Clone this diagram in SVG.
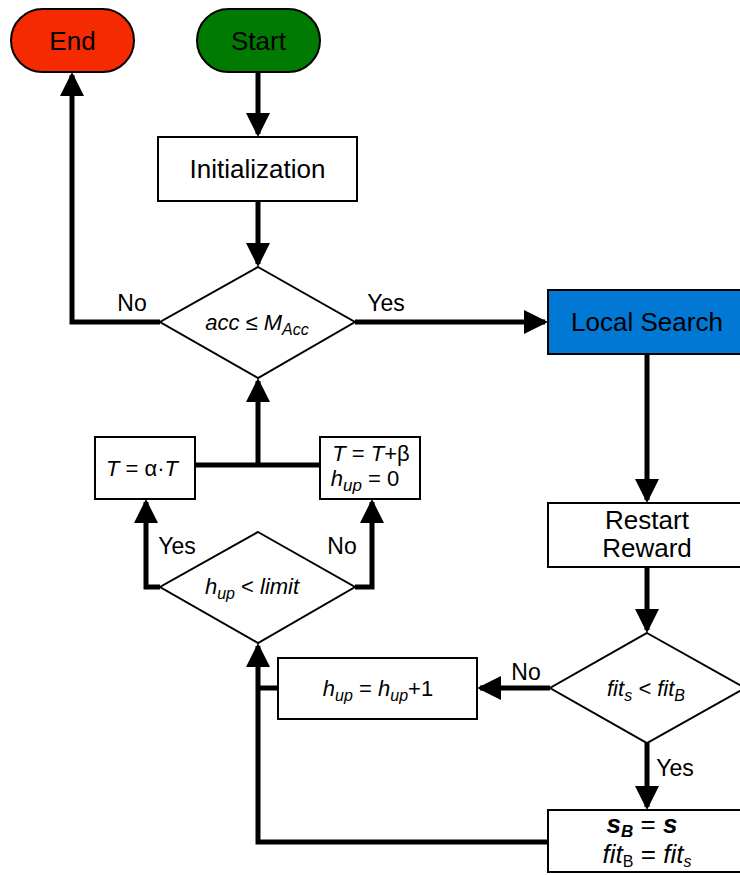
<svg xmlns="http://www.w3.org/2000/svg" width="740" height="875" viewBox="0 0 740 875">
<defs>
<marker id="ah" viewBox="0 0 24 24" markerWidth="24" markerHeight="24" refX="21" refY="12" orient="auto" markerUnits="userSpaceOnUse">
<path d="M0,0 L24,12 L0,24 z" fill="#000"/>
</marker>
</defs>
<style>
.box{fill:#fff;stroke:#000;stroke-width:2}
.t{font-family:"Liberation Sans",Arial,sans-serif;font-size:26px;fill:#000;text-anchor:middle}
.d{font-family:"Liberation Sans",Arial,sans-serif;font-size:22px;fill:#000;text-anchor:middle}
.i{font-style:italic}
.lbl{font-family:"Liberation Sans",Arial,sans-serif;font-size:23px;fill:#000;text-anchor:middle}
.c{fill:none;stroke:#000;stroke-width:5}
.ca{fill:none;stroke:#000;stroke-width:5;marker-end:url(#ah)}
</style>
<rect width="740" height="875" fill="#fff"/>
<g id="connectors">
<path class="ca" d="M258,72 V134"/>
<path class="ca" d="M258,201 V264"/>
<path class="ca" d="M160,322 H72 V75"/>
<path class="ca" d="M355,322 H545"/>
<path class="ca" d="M647,354 V500"/>
<path class="ca" d="M647,567 V630"/>
<path class="ca" d="M550,688 H480"/>
<path class="ca" d="M647,743 V807"/>
<path class="ca" d="M548,842 H258 V646"/>
<path class="c" d="M278,688 H258"/>
<path class="ca" d="M160,587 H146 V502"/>
<path class="ca" d="M355,587 H372 V502"/>
<path class="c" d="M195,465 H320"/>
<path class="ca" d="M258,465 V381"/>
<text class="lbl" x="132" y="311">No</text>
<text class="lbl" x="386" y="311">Yes</text>
<text class="lbl" x="177" y="554">Yes</text>
<text class="lbl" x="342" y="554">No</text>
<text class="lbl" x="526" y="680">No</text>
<text class="lbl" x="675" y="776">Yes</text>
</g>
<g id="end">
<rect x="11" y="9" width="123" height="63" rx="31.5" fill="#F52A00" stroke="#000" stroke-width="2"/>
<text class="t" x="72.5" y="50">End</text>
</g>
<g id="start">
<rect x="197" y="9" width="123" height="63" rx="31.5" fill="#007A00" stroke="#000" stroke-width="2"/>
<text class="t" x="258.5" y="50">Start</text>
</g>
<g id="init">
<rect class="box" x="158" y="137" width="199" height="64"/>
<text class="t" x="257.5" y="178">Initialization</text>
</g>
<g id="dec-acc">
<polygon class="box" points="258,267 355,322 258,378 160,322"/>
<text class="d i" x="257" y="330">acc ≤ M<tspan font-size="16" dy="5">Acc</tspan></text>
</g>
<g id="local-search">
<rect x="548" y="290" width="200" height="64" fill="#0078D4" stroke="#000" stroke-width="2"/>
<text class="t" x="647" y="331">Local Search</text>
</g>
<g id="restart">
<rect class="box" x="548" y="503" width="200" height="64"/>
<text class="t" x="647" y="529" font-size="24">Restart</text>
<text class="t" x="647" y="557" font-size="24">Reward</text>
</g>
<g id="dec-fit">
<polygon class="box" points="647,633 745,688 647,743 550,688"/>
<text class="d i" x="646" y="696">fit<tspan font-size="16" dy="5">s</tspan><tspan dy="-5"> &lt; fit</tspan><tspan font-size="16" dy="5">B</tspan></text>
</g>
<g id="hup-inc">
<rect class="box" x="278" y="658" width="199" height="61"/>
<text class="d" x="378" y="696"><tspan class="i">h</tspan><tspan class="i" font-size="16" dy="5">up</tspan><tspan dy="-5"> = </tspan><tspan class="i">h</tspan><tspan class="i" font-size="16" dy="5">up</tspan><tspan dy="-5">+1</tspan></text>
</g>
<g id="update-best">
<rect class="box" x="548" y="810" width="200" height="62"/>
<text class="t" x="642" y="833" font-size="24"><tspan font-weight="bold" font-style="italic">s</tspan><tspan font-weight="bold" font-style="italic" font-size="17" dy="4">B</tspan><tspan dy="-4"> = </tspan><tspan font-weight="bold" font-style="italic">s</tspan></text>
<text class="t" x="647" y="863" font-size="23"><tspan class="i">fit</tspan><tspan font-size="16" dy="4">B</tspan><tspan dy="-4"> = </tspan><tspan class="i">fit</tspan><tspan class="i" font-size="16" dy="4">s</tspan></text>
</g>
<g id="dec-limit">
<polygon class="box" points="258,532 355,587 258,643 160,587"/>
<text class="d" x="252" y="594"><tspan class="i">h</tspan><tspan class="i" font-size="16" dy="5">up</tspan><tspan dy="-5"> &lt; </tspan><tspan class="i">limit</tspan></text>
</g>
<g id="t-alpha">
<rect class="box" x="95" y="437" width="100" height="62"/>
<text class="d" x="142" y="476" font-size="24"><tspan class="i">T</tspan> = α·<tspan class="i">T</tspan></text>
</g>
<g id="t-beta">
<rect class="box" x="320" y="437" width="100" height="62"/>
<text class="d" x="371" y="461" font-size="24"><tspan class="i">T</tspan> = <tspan class="i">T</tspan>+β</text>
<text class="d" x="365" y="486" font-size="24"><tspan class="i">h</tspan><tspan class="i" font-size="17" dy="5">up</tspan><tspan dy="-5"> = 0</tspan></text>
</g>
</svg>
